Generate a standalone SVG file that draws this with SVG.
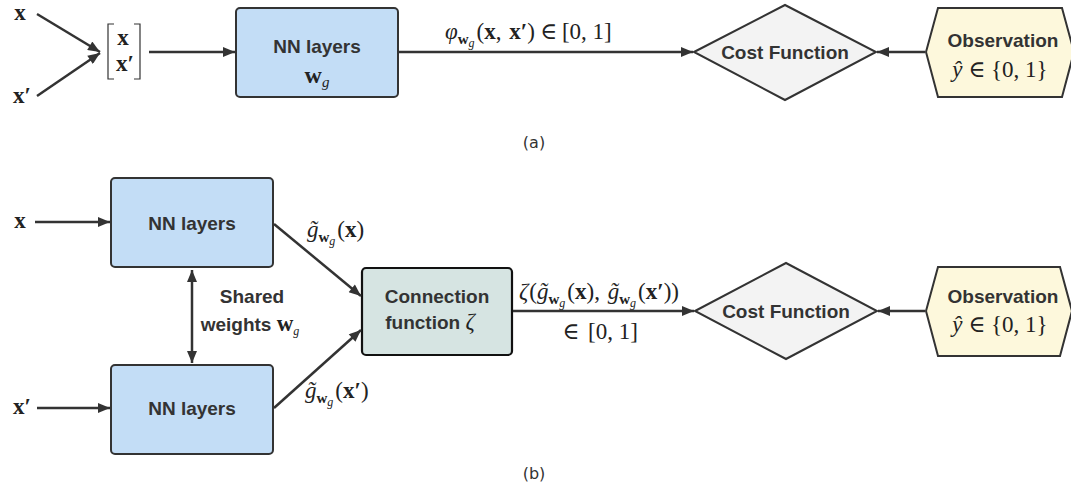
<svg xmlns="http://www.w3.org/2000/svg" width="1071" height="488" viewBox="0 0 1071 488">
  <defs>
    <marker id="arrow" viewBox="0 0 12 10" refX="12" refY="5" markerWidth="13" markerHeight="10" markerUnits="userSpaceOnUse" orient="auto-start-reverse">
      <path d="M0,0 L12,5 L0,10 Z" fill="#333"/>
    </marker>
    <style>
      .nn { fill: #c3ddf6; stroke: #333; stroke-width: 2; }
      .conn { fill: #d6e4e2; stroke: #111; stroke-width: 2.2; }
      .cost { fill: #f3f3f3; stroke: #333; stroke-width: 2; }
      .obs { fill: #fdf8dc; stroke: #333; stroke-width: 2; }
      .edge { fill: none; stroke: #333; stroke-width: 2.5; marker-end: url(#arrow); }
      .lbl { font-family: "Liberation Sans", Arial, sans-serif; font-weight: bold; font-size: 19px; fill: #333; text-anchor: middle; }
      .math { font-family: "Liberation Serif", "DejaVu Serif", serif; font-size: 23px; font-weight: normal; fill: #222; }
      .bx { font-weight: bold; }
      .it { font-style: italic; font-weight: normal; }
      .sub { font-size: 15px; }
      .ss { font-size: 12px; font-style: italic; font-weight: normal; }
      .cap { font-family: "DejaVu Sans", sans-serif; font-size: 16px; fill: #333; text-anchor: middle; }
    </style>
  </defs>

  <!-- ===== (a) concatenated-input network ===== -->
  <g id="a-input-x"><text class="math bx" x="20" y="20" text-anchor="middle" font-size="24">x</text></g>
  <g id="a-input-xp"><text class="math bx" x="22" y="103" text-anchor="middle" font-size="24">x′</text></g>
  <g id="a-stack">
    <path d="M114,24 H108 V79 H114 M134,24 H140 V79 H134" fill="none" stroke="#333" stroke-width="1.2"/>
    <text class="math bx" x="123" y="45" text-anchor="middle" font-size="24">x</text>
    <text class="math bx" x="125" y="71" text-anchor="middle" font-size="24">x′</text>
  </g>
  <g id="a-nn">
    <rect class="nn" x="236" y="8" width="162" height="89" rx="4"/>
    <text class="lbl" x="317" y="53">NN layers</text>
    <text class="math" x="317" y="83" text-anchor="middle"><tspan class="bx" font-size="24">w</tspan><tspan class="it sub" dy="4">g</tspan></text>
  </g>
  <g id="a-cost">
    <polygon class="cost" points="694,52 785,5 876,52 785,100"/>
    <text class="lbl" x="785" y="59">Cost Function</text>
  </g>
  <g id="a-obs">
    <polygon class="obs" points="926,52 938,8 1062,8 1074,52 1062,97 938,97"/>
    <text class="lbl" x="1003" y="47">Observation</text>
    <text class="math" x="1000" y="77" text-anchor="middle"><tspan class="it">ŷ</tspan> ∈ {0, 1}</text>
  </g>
  <g id="a-caption"><text class="cap" x="534" y="148">(a)</text></g>

  <!-- ===== (b) siamese network ===== -->
  <g id="b-input-x"><text class="math bx" x="20" y="228" text-anchor="middle" font-size="24">x</text></g>
  <g id="b-input-xp"><text class="math bx" x="22" y="414" text-anchor="middle" font-size="24">x′</text></g>
  <g id="b-nn-top">
    <rect class="nn" x="111" y="178" width="162" height="89" rx="4"/>
    <text class="lbl" x="192" y="230">NN layers</text>
  </g>
  <g id="b-nn-bottom">
    <rect class="nn" x="111" y="365" width="162" height="89" rx="4"/>
    <text class="lbl" x="192" y="415">NN layers</text>
  </g>
  <g id="b-shared">
    <text class="lbl" x="252" y="303">Shared</text>
    <text class="lbl" x="250" y="331">weights <tspan class="math bx" font-size="23">w</tspan><tspan class="math ss" font-size="15" dy="4">g</tspan></text>
  </g>
  <g id="b-connection">
    <rect class="conn" x="362" y="268" width="150" height="87" rx="4"/>
    <text class="lbl" x="437" y="303">Connection</text>
    <text class="lbl" x="430" y="329">function <tspan class="math it" font-size="22">ζ</tspan></text>
  </g>
  <g id="b-cost">
    <polygon class="cost" points="695,311 786,263 877,311 786,359"/>
    <text class="lbl" x="786" y="318">Cost Function</text>
  </g>
  <g id="b-obs">
    <polygon class="obs" points="926,311 938,267 1060,267 1072,311 1060,356 938,356"/>
    <text class="lbl" x="1003" y="303">Observation</text>
    <text class="math" x="1000" y="332" text-anchor="middle"><tspan class="it">ŷ</tspan> ∈ {0, 1}</text>
  </g>
  <g id="b-caption"><text class="cap" x="534" y="479">(b)</text></g>

  <!-- ===== connectors and their labels ===== -->
  <g id="connectors">
    <line class="edge" x1="37" y1="14" x2="100" y2="52"/>
    <line class="edge" x1="37" y1="96" x2="100" y2="53"/>
    <line class="edge" x1="149" y1="52" x2="235" y2="52"/>
    <line class="edge" x1="398" y1="52" x2="693" y2="52"/>
    <line class="edge" x1="925" y1="52" x2="877" y2="52"/>
    <text class="math" x="445" y="39"><tspan class="it">φ</tspan><tspan class="sub bx" dy="5">w</tspan><tspan class="ss" dy="3">g</tspan><tspan dx="2" dy="-8">(</tspan><tspan class="bx">x</tspan>, <tspan class="bx" dx="2">x′</tspan>)<tspan dx="5">∈</tspan><tspan dx="5">[0, 1]</tspan></text>

    <line class="edge" x1="35" y1="222" x2="110" y2="222"/>
    <line class="edge" x1="37" y1="408" x2="110" y2="408"/>
    <line class="edge" x1="192" y1="270" x2="192" y2="363" marker-start="url(#arrow)"/>
    <line class="edge" x1="274" y1="224" x2="361" y2="296"/>
    <line class="edge" x1="274" y1="408" x2="361" y2="330"/>
    <line class="edge" x1="513" y1="311" x2="694" y2="311"/>
    <line class="edge" x1="925" y1="311" x2="878" y2="311"/>
    <text class="math" x="307" y="237"><tspan class="it">g̃</tspan><tspan class="sub bx" dy="5">w</tspan><tspan class="ss" dy="3">g</tspan><tspan dx="2" dy="-8">(</tspan><tspan class="bx">x</tspan>)</text>
    <text class="math" x="305" y="398"><tspan class="it">g̃</tspan><tspan class="sub bx" dy="5">w</tspan><tspan class="ss" dy="3">g</tspan><tspan dx="2" dy="-8">(</tspan><tspan class="bx">x′</tspan>)</text>
    <text class="math" x="519" y="299"><tspan class="it">ζ</tspan><tspan dx="1">(</tspan><tspan class="it">g̃</tspan><tspan class="sub bx" dy="5">w</tspan><tspan class="ss" dy="3">g</tspan><tspan dx="2" dy="-8">(</tspan><tspan class="bx">x</tspan>), <tspan class="it" dx="2">g̃</tspan><tspan class="sub bx" dy="5">w</tspan><tspan class="ss" dy="3">g</tspan><tspan dx="2" dy="-8">(</tspan><tspan class="bx">x′</tspan>))</text>
    <text class="math" x="600" y="339" text-anchor="middle">∈ <tspan dx="3">[0, 1]</tspan></text>
  </g>
</svg>
